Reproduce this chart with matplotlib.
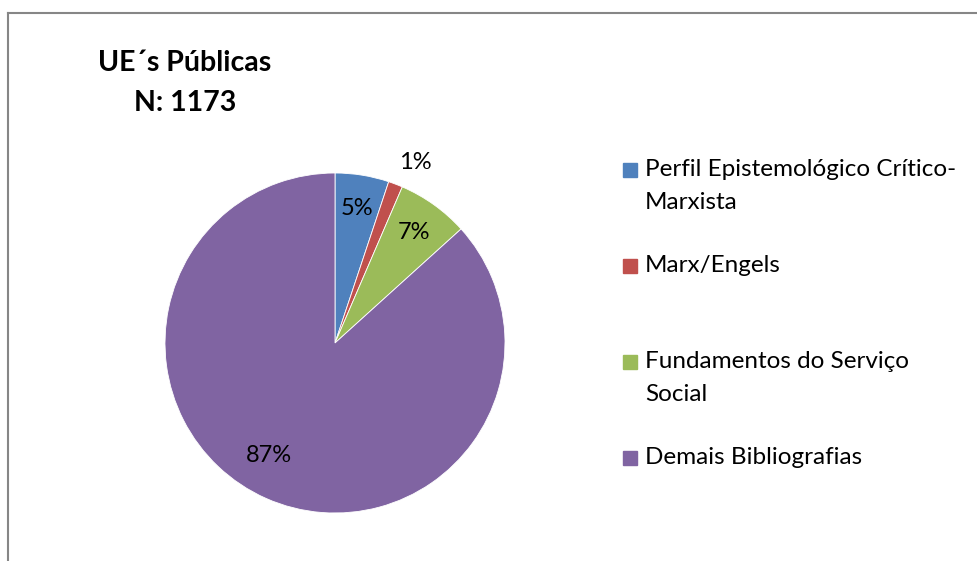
import matplotlib.pyplot as plt
import matplotlib.patches as mpatches
from matplotlib.lines import Line2D

plt.rcParams['font.family'] = ['Lato', 'DejaVu Sans']

labels = ["Perfil Epistemológico Crítico-\nMarxista", "Marx/Engels",
          "Fundamentos do Serviço\nSocial", "Demais Bibliografias"]
counts = [60, 16, 80, 1017]
colors = ["#4F81BD", "#C0504D", "#9BBB59", "#8064A2"]
title = "UE´s Públicas\nN: 1173"

W, H = 978, 561
fig = plt.figure(figsize=(W / 100, H / 100), dpi=100)

# chart frame (top and left edges visible)
fig.add_artist(Line2D([8 / W, 8 / W], [0, 1 - 13 / H], transform=fig.transFigure,
                      color="#868686", lw=1.5))
fig.add_artist(Line2D([8 / W, 1], [1 - 13 / H, 1 - 13 / H], transform=fig.transFigure,
                      color="#868686", lw=1.5))

# pie area: center (335, 343), radius 170 px
cx, cy, r = 335, 343, 170
ax = fig.add_axes([(cx - r) / W, (H - cy - r) / H, 2 * r / W, 2 * r / H])
wedges, texts, autotexts = ax.pie(counts, colors=colors, startangle=90, counterclock=False,
                                  autopct='%.0f%%', pctdistance=0.8,
                                  wedgeprops=dict(edgecolor="white", linewidth=0.6),
                                  textprops=dict(fontsize=17, color="black"))
ax.set_xlim(-1, 1)
ax.set_ylim(-1, 1)
ax.axis("off")

# small slice label outside
autotexts[1].set_position((0.47, 1.06))
autotexts[3].set_position((-0.39, -0.66))

fig.text(185 / W, 1 - 83 / H, title, ha="center", va="center", fontsize=20.5,
         fontweight="bold", linespacing=1.7)

# legend
leg_y = [170, 266, 362, 458]
for y, lab, c in zip(leg_y, labels, colors):
    fig.add_artist(mpatches.Rectangle((623 / W, 1 - (y + 7) / H), 14 / W, 14 / H,
                                      transform=fig.transFigure, color=c))
    fig.text(645 / W, 1 - (y - 11) / H, lab, ha="left", va="top", fontsize=17.5,
             linespacing=1.7)

fig.savefig("out.png", dpi=100)
